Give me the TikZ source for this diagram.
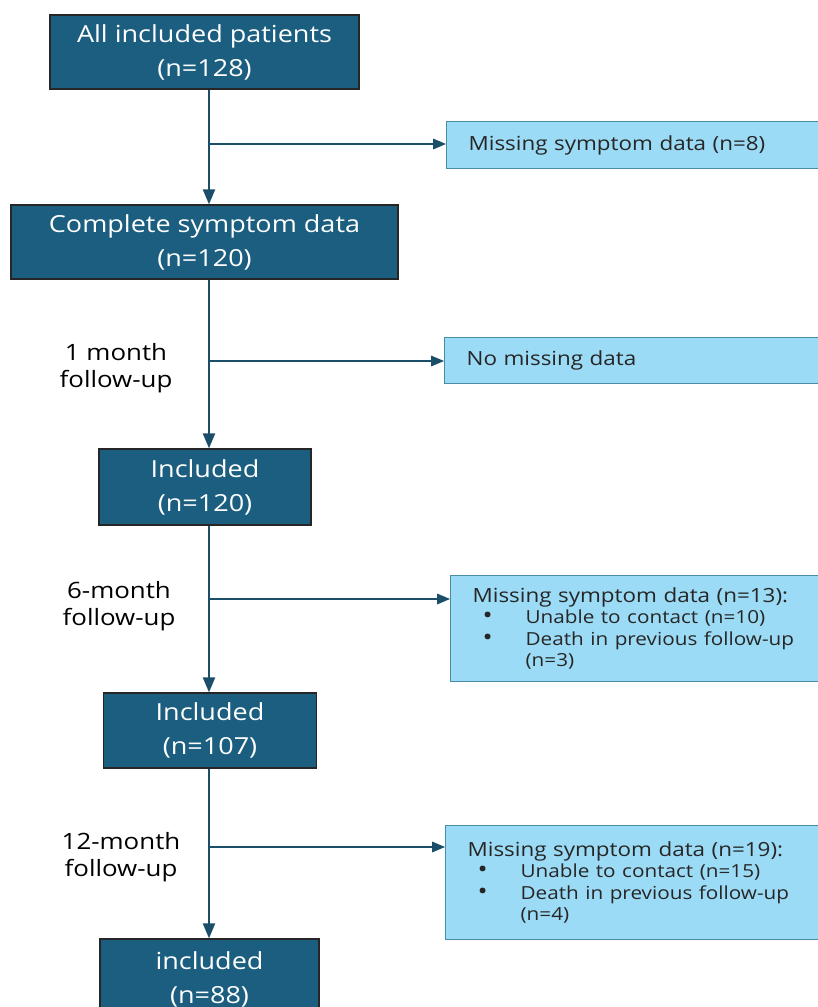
\documentclass[tikz,border=0pt]{standalone}
\usepackage{fontspec}
\setmainfont[FakeStretch=1.15]{Open Sans}
\usepackage{xcolor}
\usetikzlibrary{arrows}

\definecolor{darkbox}{HTML}{1B5E7F}
\definecolor{lightbox}{HTML}{9CDBF5}
\definecolor{lightedge}{HTML}{4B8DA6}
\definecolor{flowline}{HTML}{1B4F69}

\newcommand{\bitem}[1]{\makebox[53pt][l]{\hspace{10pt}\scalebox{1.2}{\textbullet}}{\fontsize{18}{21.5}\selectfont #1}}

\begin{document}
\begin{tikzpicture}[x=1pt,y=-1pt,
  mainbox/.style={draw=black!85,fill=darkbox,text=white,line width=1.5pt,align=center,inner sep=0pt,font=\fontsize{23.5}{34}\selectfont},
  sidebox/.style={draw=lightedge,fill=lightbox,line width=1.2pt,align=left,anchor=north west,inner xsep=22pt,inner ysep=0pt,text width=360pt,text=black!85},
  flow/.style={draw=flowline,line width=2.5pt,-triangle 45},
  branch/.style={draw=flowline,line width=2pt,-triangle 45}]
\useasboundingbox (0,0) rectangle (818,1007);

% main boxes
\node[mainbox,minimum width=309pt,minimum height=74pt] (all) at (204.5,52) {All included patients\\(n=128)};
\node[mainbox,minimum width=387pt,minimum height=74pt] (complete) at (204.5,242) {Complete symptom data\\(n=120)};
\node[mainbox,minimum width=212pt,minimum height=76pt] (inc1) at (205,487) {Included\\(n=120)};
\node[mainbox,minimum width=213pt,minimum height=75pt] (inc6) at (210,730.5) {Included\\(n=107)};
\node[mainbox,minimum width=219pt,minimum height=80pt] (inc12) at (209.5,979) {included\\(n=88)};

% side boxes
\node[sidebox,minimum height=47pt,font=\fontsize{19.5}{22}\selectfont] (miss0) at (446,121) {Missing symptom data (n=8)};
\node[sidebox,minimum height=46pt,font=\fontsize{19.5}{22}\selectfont] (miss1) at (444,337) {No missing data};
\node[sidebox,minimum height=106pt,font=\fontsize{19.5}{21.5}\selectfont] (miss6) at (450,575) {Missing symptom data (n=13):\\\bitem{Unable to contact (n=10)}\\\bitem{Death in previous follow-up}\\\hspace*{53pt}{\fontsize{18}{21.5}\selectfont(n=3)}};
\node[sidebox,minimum height=114pt,font=\fontsize{19.5}{21.5}\selectfont] (miss12) at (445,825) {Missing symptom data (n=19):\\\bitem{Unable to contact (n=15)}\\\bitem{Death in previous follow-up}\\\hspace*{53pt}{\fontsize{18}{21.5}\selectfont(n=4)}};

% follow-up labels
\node[align=center,font=\fontsize{22.5}{27}\selectfont] (lab1) at (116,368) {1 month\\follow-up};
\node[align=center,font=\fontsize{22.5}{27}\selectfont] (lab6) at (119,606) {6-month\\follow-up};
\node[align=center,font=\fontsize{22.5}{27}\selectfont] (lab12) at (121,857) {12-month\\follow-up};

% spine
\coordinate (b0) at (209,144);
\coordinate (b1) at (209,361);
\coordinate (b6) at (209,599);
\coordinate (b12) at (209,847);
\draw[flow] (all.south -| b0) -- (complete.north -| b0);
\draw[flow] (complete.south -| b0) -- (inc1.north -| b0);
\draw[flow] (inc1.south -| b0) -- (inc6.north -| b0);
\draw[flow] (inc6.south -| b0) -- (inc12.north -| b0);
\draw[branch] (b0) -- (b0 -| miss0.west);
\draw[branch] (b1) -- (b1 -| miss1.west);
\draw[branch] (b6) -- (b6 -| miss6.west);
\draw[branch] (b12) -- (b12 -| miss12.west);
\end{tikzpicture}
\end{document}
